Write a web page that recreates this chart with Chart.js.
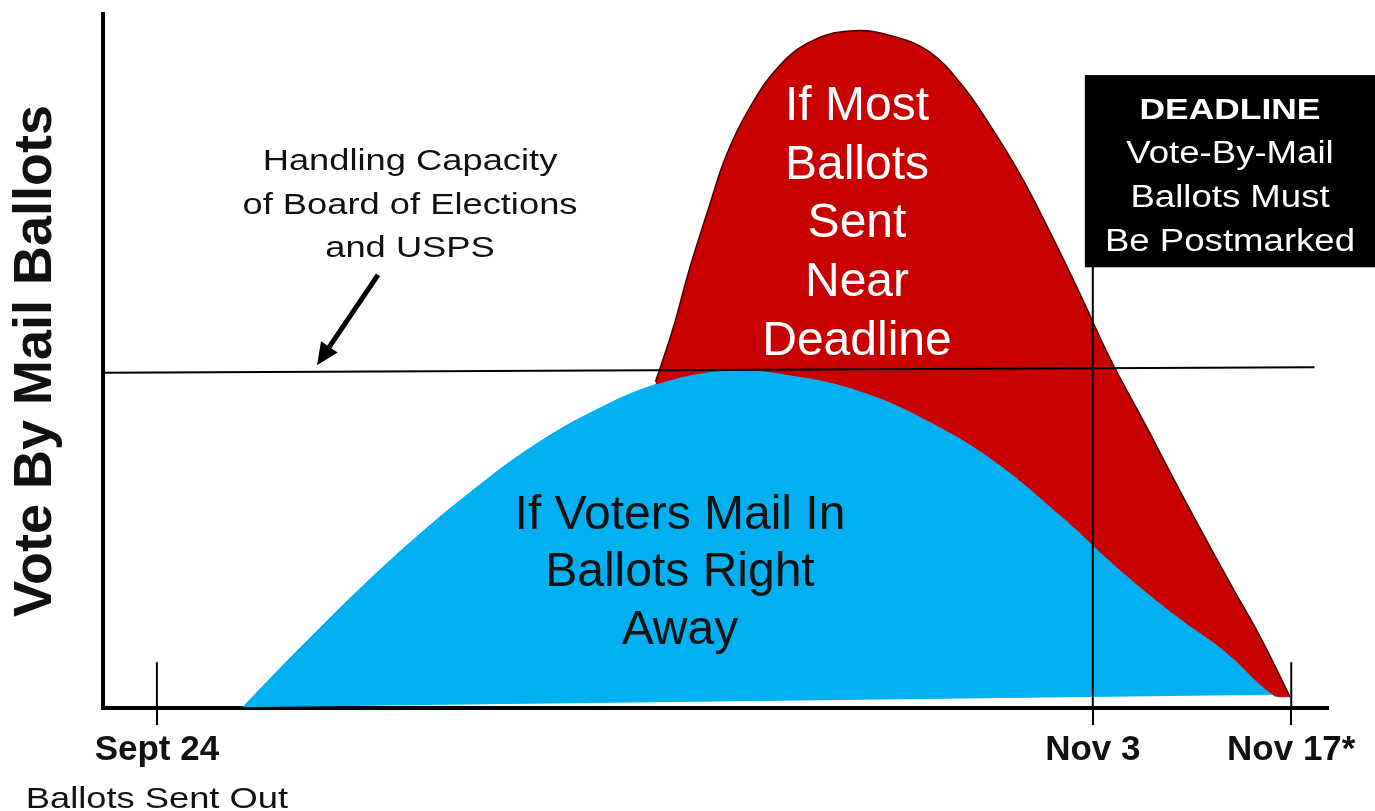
<!DOCTYPE html>
<html><head><meta charset="utf-8">
<script src="https://cdn.jsdelivr.net/npm/chart.js@4/dist/chart.umd.min.js"></script>
<style>html,body{margin:0;padding:0;background:#fff;overflow:hidden}#wrap{width:1375px;height:811px}</style>
</head><body><div id="wrap"><canvas id="c" width="1375" height="811"></canvas></div>
<script>
// ---- data (x: position along the timeline 0-100, y: relative ballot volume 0-100)
const tickValues = [4.4, 80.8, 97.0];
const tickLabels = ['Sept 24', 'Nov 3', 'Nov 17*'];
const tickSubLabel = 'Ballots Sent Out';
const axisTitle = 'Vote By Mail Ballots';

const blueX = [11.4, 14.5, 17.7, 21.4, 25.5, 30.0, 34.9, 40.2, 45.5, 51.2, 56.9, 62.2, 67.5, 72.8, 78.1, 83.0, 87.5, 91.6, 95.5, 96.9];
const blueY = [0.1, 5.8, 11.5, 17.9, 24.5, 31.1, 37.5, 42.9, 46.8, 48.6, 47.7, 45.4, 41.2, 35.5, 27.8, 19.9, 13.4, 8.1, 1.9, 1.6];

const redX = [45.1, 46.5, 47.9, 49.4, 50.9, 52.8, 55.3, 58.1, 61.4, 64.7, 67.5, 70.1, 72.4, 74.9, 77.3, 79.8, 82.2, 85.1, 88.3, 92.0, 94.6, 96.9];
const redY = [47.0, 54.5, 63.4, 71.8, 79.7, 86.5, 92.7, 96.3, 97.6, 96.7, 94.5, 89.8, 84.0, 76.8, 68.6, 59.5, 50.4, 40.8, 30.0, 18.0, 9.8, 1.6];

const baseX = [11.4, 95.5, 96.9];
const baseY = [0.1, 1.9, 1.6];

const capacityX = [0, 98.9];
const capacityY = [48.3, 49.1];

const deadlineX = [80.8, 80.8];
const deadlineY = [63.8, 0];
const startMarkX = [4.4, 4.4];
const endMarkX = [97.0, 97.0];
const markY = [6.6, 0];

const capacityText = ['Handling Capacity', 'of Board of Elections', 'and USPS'];
const redText = ['If Most', 'Ballots', 'Sent', 'Near', 'Deadline'];
const blueText = ['If Voters Mail In', 'Ballots Right', 'Away'];
const deadlineText = ['DEADLINE', 'Vote-By-Mail', 'Ballots Must', 'Be Postmarked'];

const pts = (xs, ys) => xs.map((v, i) => ({x: v, y: ys[i]}));
const FONT = "'Liberation Sans', Arial, sans-serif";

function drawLines(ctx, lines, cx, y0, gap, font, color, sx, boldFirst) {
  ctx.save();
  ctx.fillStyle = color;
  ctx.textAlign = 'center';
  ctx.textBaseline = 'alphabetic';
  lines.forEach((t, i) => {
    ctx.font = (boldFirst && i === 0) ? boldFirst : font;
    ctx.save();
    ctx.translate(cx, y0 + i * gap);
    ctx.scale(sx, 1);
    ctx.fillText(t, 0, 0);
    ctx.restore();
  });
  ctx.restore();
}

const annot = {
  id: 'annot',
  afterDatasetsDraw(chart) {
    const {ctx, scales: {x, y}} = chart;
    const bx = x.getPixelForValue(80.15), bt = y.getPixelForValue(91.2), bb = y.getPixelForValue(63.5);
    ctx.save();
    ctx.fillStyle = '#000';
    ctx.fillRect(bx, bt, chart.width - bx, bb - bt);
    ctx.restore();
    drawLines(ctx, deadlineText, x.getPixelForValue(92.0), y.getPixelForValue(84.9), 44,
      '31px ' + FONT, '#fff', 1.18, 'bold 30px ' + FONT);
    drawLines(ctx, redText, x.getPixelForValue(61.55), y.getPixelForValue(84.7), 58.6, '48px ' + FONT, '#fff', 1, null);
    drawLines(ctx, blueText, x.getPixelForValue(47.1), y.getPixelForValue(25.8), 57.5, '48px ' + FONT, '#111', 1, null);
    drawLines(ctx, capacityText, x.getPixelForValue(25.06), y.getPixelForValue(77.5), 43.5, '30px ' + FONT, '#111', 1.21, null);
    const tx = x.getPixelForValue(22.45), ty = y.getPixelForValue(62.4);
    const hx = x.getPixelForValue(17.47), hy = y.getPixelForValue(49.4);
    const ang = Math.atan2(hy - ty, hx - tx);
    const hl = 22, hw = 10;
    const bxp = hx - hl * Math.cos(ang), byp = hy - hl * Math.sin(ang);
    ctx.save();
    ctx.strokeStyle = '#000'; ctx.fillStyle = '#000'; ctx.lineWidth = 5;
    ctx.beginPath(); ctx.moveTo(tx, ty); ctx.lineTo(bxp, byp); ctx.stroke();
    ctx.beginPath();
    ctx.moveTo(hx, hy);
    ctx.lineTo(bxp + hw * Math.sin(ang), byp - hw * Math.cos(ang));
    ctx.lineTo(bxp - hw * Math.sin(ang), byp + hw * Math.cos(ang));
    ctx.closePath(); ctx.fill();
    ctx.restore();
  },
  afterDraw(chart) {
    const {ctx, scales: {x}} = chart;
    drawLines(ctx, [tickSubLabel], x.getPixelForValue(tickValues[0]), 808, 0, '30px ' + FONT, '#111', 1.21, null);
  }
};

const lineDs = (xs, ys, w) => ({
  data: pts(xs, ys), borderColor: '#000', borderWidth: w, pointRadius: 0, fill: false, tension: 0, order: 1
});

new Chart(document.getElementById('c'), {
  type: 'line',
  data: {
    datasets: [
      {data: pts(baseX, baseY), borderColor: 'rgba(0,0,0,0)', borderWidth: 0, pointRadius: 0, fill: false, tension: 0, order: 10},
      {data: pts(blueX, blueY), borderColor: '#00B0F0', backgroundColor: '#00B0F0', borderWidth: 1,
        pointRadius: 0, fill: 0, tension: 0.4, order: 9},
      {data: pts(redX, redY), borderColor: '#4a0000', backgroundColor: '#C80000', borderWidth: 1.5,
        pointRadius: 0, fill: 1, tension: 0.4, order: 8},
      lineDs(capacityX, capacityY, 2),
      lineDs(deadlineX, deadlineY, 2),
      lineDs(startMarkX, markY, 2),
      lineDs(endMarkX, markY, 2)
    ]
  },
  options: {
    responsive: false,
    animation: false,
    devicePixelRatio: 1,
    events: [],
    layout: {padding: {top: 14, right: 47, bottom: 0, left: 0}},
    plugins: {legend: {display: false}, tooltip: {enabled: false}},
    scales: {
      x: {
        type: 'linear', min: 0, max: 100,
        afterFit: s => { s.height = 103; },
        afterBuildTicks: s => { s.ticks = tickValues.map(v => ({value: v})); },
        grid: {display: true, drawOnChartArea: false, drawTicks: true, tickLength: 17, color: '#000', lineWidth: 2},
        border: {display: true, color: '#000', width: 4},
        ticks: {
          autoSkip: false, maxRotation: 0, padding: 4, color: '#111',
          font: {family: FONT, size: 35, weight: 'bold'},
          callback: (v, i) => tickLabels[i]
        }
      },
      y: {
        type: 'linear', min: 0, max: 100,
        afterFit: s => { s.width = 103; },
        grid: {display: false},
        border: {display: true, color: '#000', width: 4},
        ticks: {display: false},
        title: {display: true, text: axisTitle, color: '#111', padding: {top: 4, bottom: 0},
          font: {family: FONT, size: 54, weight: 'bold'}}
      }
    }
  },
  plugins: [annot]
});
</script></body></html>
